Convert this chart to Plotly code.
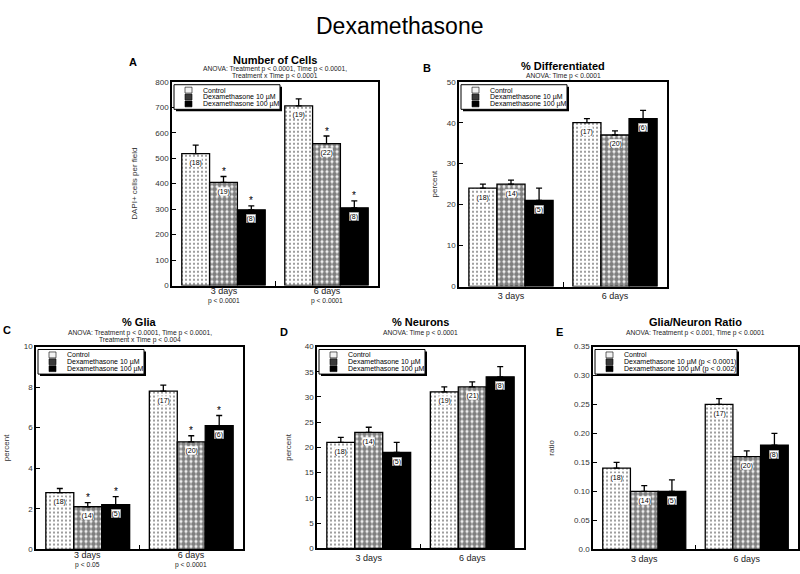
import plotly.graph_objects as go

# ---------------- data ----------------
groups = ["Control", "Dexamethasone 10 µM", "Dexamethasone 100 µM"]
days = ["3 days", "6 days"]
days_x = [0, 1]

# Panel A: Number of Cells
a_vals = [[518, 705], [405, 557], [297, 305]]
a_err = [[33, 28], [23, 30], [16, 27]]
a_n = [["(18)", "(19)"], ["(19)", "(22)"], ["(8)", "(8)"]]
a_star = [[False, False], [True, True], [True, True]]
a_p = ["p < 0.0001", "p < 0.0001"]

# Panel B: % Differentiated
b_vals = [[24, 40], [25, 37], [21, 41]]
b_err = [[1, 1], [1, 1], [3, 2]]
b_n = [["(18)", "(17)"], ["(14)", "(20)"], ["(5)", "(6)"]]
b_star = [[False, False], [False, False], [False, False]]

# Panel C: % Glia
c_vals = [[2.8, 7.8], [2.1, 5.3], [2.2, 6.1]]
c_err = [[0.2, 0.3], [0.2, 0.3], [0.4, 0.5]]
c_n = [["(18)", "(17)"], ["(14)", "(20)"], ["(5)", "(6)"]]
c_star = [[False, False], [True, True], [True, True]]
c_p = ["p < 0.05", "p < 0.0001"]

# Panel D: % Neurons
d_vals = [[21, 31], [23, 32], [19, 34]]
d_err = [[1, 1], [1, 1], [2, 2]]
d_n = [["(18)", "(19)"], ["(14)", "(21)"], ["(5)", "(8)"]]
d_star = [[False, False], [False, False], [False, False]]

# Panel E: Glia/Neuron Ratio
e_vals = [[0.14, 0.25], [0.10, 0.16], [0.10, 0.18]]
e_err = [[0.01, 0.01], [0.01, 0.01], [0.02, 0.02]]
e_n = [["(18)", "(17)"], ["(14)", "(20)"], ["(5)", "(8)"]]
e_star = [[False, False], [False, False], [False, False]]
e_names = ["Control", "Dexamethasone 10 µM (p < 0.0001)", "Dexamethasone 100 µM (p < 0.002)"]
e_ticktext = ["0.0", "0.05", "0.10", "0.15", "0.20", "0.25", "0.30", "0.35"]
e_tickvals = [0, 0.05, 0.10, 0.15, 0.20, 0.25, 0.30, 0.35]

# ---------------- styling ----------------
FONT = "Liberation Sans, Arial, Helvetica, sans-serif"
patterns = [
    dict(shape=".", fgcolor="black", bgcolor="white", size=4, solidity=0.2),
    dict(shape=".", fgcolor="black", bgcolor="white", size=5, solidity=0.72),
    dict(shape="", fgcolor="black", bgcolor="black"),
]
fills = ["white", "white", "black"]
swatch_fill = ["#f2f2f2", "#3a3a3a", "black"]
BW = 0.27
offsets = [-1.5 * BW, -0.5 * BW, 0.5 * BW]

panels = [
    dict(key="A", vals=a_vals, err=a_err, n=a_n, star=a_star, names=groups, pv=a_p,
         title="Number of Cells",
         anova=["ANOVA: Treatment p < 0.0001, Time p < 0.0001,", "Treatment x Time p < 0.0001"],
         ytitle="DAPI+ cells per field", yr=[0, 800], dt=100, tt=None, stand=16,
         dom_x=[172, 378], dom_y=[79, 286], letter=(133, 59), ttl_y=57, an_y=66, legw=106),
    dict(key="B", vals=b_vals, err=b_err, n=b_n, star=b_star, names=groups, pv=None,
         title="% Differentiated", anova=["ANOVA: Time p < 0.0001"],
         ytitle="percent", yr=[0, 50], dt=10, tt=None, stand=8,
         dom_x=[459, 667], dom_y=[79, 287], letter=(427, 65), ttl_y=63, an_y=73, legw=106),
    dict(key="C", vals=c_vals, err=c_err, n=c_n, star=c_star, names=groups, pv=c_p,
         title="% Glia",
         anova=["ANOVA: Treatment p < 0.0001, Time p < 0.0001,", "Treatment x Time p < 0.004"],
         ytitle="percent", yr=[0, 10], dt=2, tt=None, stand=13,
         dom_x=[36, 243], dom_y=[348, 554], letter=(7, 331), ttl_y=323, an_y=334, legw=106),
    dict(key="D", vals=d_vals, err=d_err, n=d_n, star=d_star, names=groups, pv=None,
         title="% Neurons", anova=["ANOVA: Time p < 0.0001"],
         ytitle="percent", yr=[0, 40], dt=5, tt=None, stand=12,
         dom_x=[317, 524], dom_y=[348, 553], letter=(284, 333), ttl_y=323, an_y=334, legw=106),
    dict(key="E", vals=e_vals, err=e_err, n=e_n, star=e_star, names=e_names, pv=None,
         title="Glia/Neuron Ratio", anova=["ANOVA: Treatment p < 0.001, Time p < 0.0001"],
         ytitle="ratio", yr=[0, 0.35], dt=0.05, tt=(e_ticktext, e_tickvals), stand=18,
         dom_x=[593, 798], dom_y=[348, 554], letter=(559, 333), ttl_y=323, an_y=334, legw=142),
]

W, H = 800, 574
px = lambda x: x / W
py = lambda y: (H - y) / H

fig = go.Figure()
annotations = []
shapes = []
layout = {}

for i, p in enumerate(panels):
    k = i + 1
    xa = "x" if k == 1 else f"x{k}"
    ya = "y" if k == 1 else f"y{k}"
    for g in range(3):
        fig.add_trace(go.Bar(
            x=days_x, y=p["vals"][g], name=p["names"][g],
            width=BW, offset=offsets[g],
            marker=dict(color=fills[g], line=dict(color="black", width=1.3),
                        pattern=patterns[g]),
            error_y=dict(type="data", array=p["err"][g], arrayminus=[0, 0],
                         symmetric=False, color="black", thickness=1.3, width=3),
            xaxis=xa, yaxis=ya, showlegend=False, hoverinfo="skip",
        ))
        for j in range(2):
            xc = days_x[j] + offsets[g] + BW / 2
            annotations.append(dict(
                x=xc, y=p["vals"][g][j], xref=xa, yref=ya, text=p["n"][g][j],
                showarrow=False, yshift=-9, xanchor="center", yanchor="middle",
                font=dict(size=7, color="black", family=FONT),
                bgcolor="white", borderpad=0,
                bordercolor="#888" if g == 2 else "rgba(0,0,0,0)", borderwidth=0.5))
            if p["star"][g][j]:
                annotations.append(dict(
                    x=xc, y=p["vals"][g][j] + p["err"][g][j], xref=xa, yref=ya,
                    text="*", showarrow=False, yshift=5, xanchor="center", yanchor="middle",
                    font=dict(size=10, color="black", family=FONT)))
    x0, x1 = p["dom_x"]
    ytop, ybot = p["dom_y"]
    layout[f"xaxis{k if k > 1 else ''}"] = dict(
        domain=[px(x0), px(x1)], anchor=ya, range=[-0.5, 1.5],
        tickmode="array", tickvals=days_x,
        ticktext=["", ""] if p["pv"] else days, ticks="",
        tickfont=dict(size=9, color="#222", family=FONT),
        showline=True, linecolor="black", linewidth=1.5, mirror=True,
        showgrid=False, zeroline=False, fixedrange=True,
        minor=dict(tickmode="array", tickvals=[0.5], ticks="inside", ticklen=5,
                   tickcolor="black", tickwidth=1, showgrid=False),
    )
    ydict = dict(
        domain=[py(ybot), py(ytop)], anchor=xa, range=p["yr"],
        ticks="inside", ticklen=4, tickcolor="black", tickwidth=1,
        tickfont=dict(size=8, color="#333", family=FONT),
        showline=True, linecolor="black", linewidth=1.5, mirror=True,
        showgrid=False, zeroline=False, fixedrange=True,
        title=dict(text=p["ytitle"], font=dict(size=8, color="#333", family=FONT),
                   standoff=p["stand"]),
    )
    if p["tt"]:
        ydict.update(tickmode="array", ticktext=p["tt"][0], tickvals=p["tt"][1])
    else:
        ydict.update(dtick=p["dt"], tick0=0)
    layout[f"yaxis{k if k > 1 else ''}"] = ydict

    # day label + p-value as one two-line text
    if p["pv"]:
        for j in range(2):
            annotations.append(dict(
                x=days_x[j], y=0, xref=xa, yref=f"{ya} domain",
                text="<span style='font-size:9px'>" + days[j] + "</span><br>" + p["pv"][j],
                showarrow=False, xanchor="center", yanchor="middle", yshift=-10,
                font=dict(size=6.7, color="#222", family=FONT)))

    # custom legend box with shadow
    lx0, ly0 = x0 + 2, ytop + 3
    lx1, ly1 = lx0 + p["legw"], ly0 + 25
    shapes.append(dict(type="rect", xref="paper", yref="paper",
                       x0=px(lx0 + 2), x1=px(lx1 + 2), y0=py(ly1 + 2), y1=py(ly0 + 2),
                       fillcolor="black", line=dict(width=0)))
    shapes.append(dict(type="rect", xref="paper", yref="paper",
                       x0=px(lx0), x1=px(lx1), y0=py(ly1), y1=py(ly0),
                       fillcolor="white", line=dict(color="black", width=1)))
    for g in range(3):
        cy = ly0 + 5.5 + 7 * g
        shapes.append(dict(type="rect", xref="paper", yref="paper",
                           x0=px(lx0 + 11), x1=px(lx0 + 18), y0=py(cy + 3), y1=py(cy - 3),
                           fillcolor=swatch_fill[g], line=dict(color="black", width=0.6)))
        annotations.append(dict(
            x=px(lx0 + 27), y=py(cy), xref="paper", yref="paper", text=p["names"][g],
            showarrow=False, xanchor="left", yanchor="middle",
            font=dict(size=7, color="black", family=FONT)))

    xc_paper = px((x0 + x1) / 2)
    annotations.append(dict(
        x=xc_paper, y=py(p["ttl_y"]), xref="paper", yref="paper",
        text="<b>" + p["title"] + "</b>", showarrow=False,
        xanchor="center", yanchor="middle",
        font=dict(size=11, color="black", family=FONT)))
    for li, line in enumerate(p["anova"]):
        annotations.append(dict(
            x=xc_paper, y=py(p["an_y"] + 7 * li), xref="paper", yref="paper",
            text=line, showarrow=False, xanchor="center", yanchor="middle",
            font=dict(size=6.7, color="#222", family=FONT)))
    annotations.append(dict(
        x=px(p["letter"][0]), y=py(p["letter"][1]), xref="paper", yref="paper",
        text="<b>" + p["key"] + "</b>", showarrow=False,
        xanchor="center", yanchor="middle",
        font=dict(size=11, color="black", family=FONT)))

annotations.append(dict(
    x=0.5, y=py(22), xref="paper", yref="paper", text="Dexamethasone",
    showarrow=False, xanchor="center", yanchor="middle",
    font=dict(size=23, color="black", family=FONT)))

fig.update_layout(
    width=W, height=H, margin=dict(l=0, r=0, t=0, b=0),
    paper_bgcolor="white", plot_bgcolor="white",
    font=dict(family=FONT), annotations=annotations, shapes=shapes,
    showlegend=False, hovermode=False, **layout,
)

fig.write_html("out.html", config={"displayModeBar": False},
               post_script="document.body.style.margin='0px';")
